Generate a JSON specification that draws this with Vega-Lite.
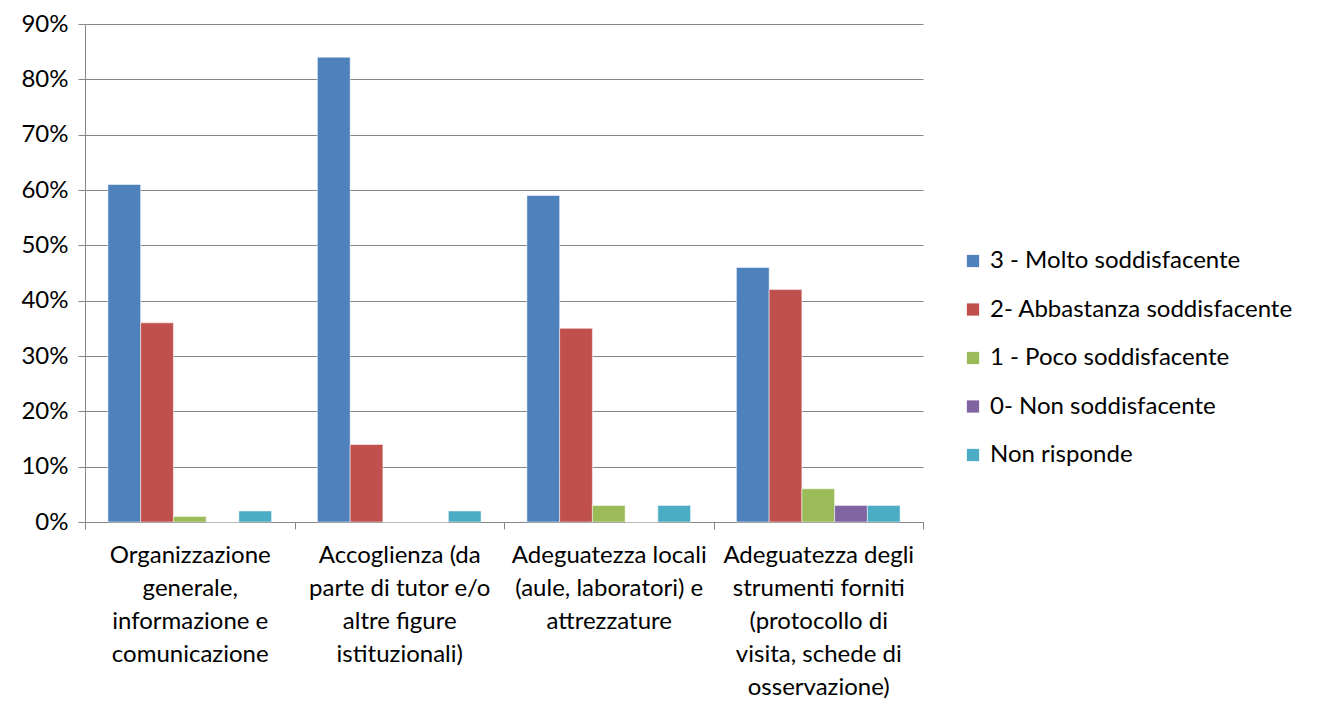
{
  "$schema": "https://vega.github.io/schema/vega-lite/v6.json",
  "autosize": {"type": "none"},
  "padding": {"left": 85, "top": 24, "right": 395, "bottom": 194},
  "width": 838,
  "height": 498,
  "background": "white",
  "config": {
    "font": "Lato",
    "view": {"stroke": null}
  },
  "data": {
    "values": [
      {"cat": "Organizzazione", "serie": "3 - Molto soddisfacente", "v": 0.61},
      {"cat": "Organizzazione", "serie": "2- Abbastanza soddisfacente", "v": 0.36},
      {"cat": "Organizzazione", "serie": "1 - Poco soddisfacente", "v": 0.01},
      {"cat": "Organizzazione", "serie": "0- Non soddisfacente", "v": 0},
      {"cat": "Organizzazione", "serie": "Non risponde", "v": 0.02},
      {"cat": "Accoglienza", "serie": "3 - Molto soddisfacente", "v": 0.84},
      {"cat": "Accoglienza", "serie": "2- Abbastanza soddisfacente", "v": 0.14},
      {"cat": "Accoglienza", "serie": "1 - Poco soddisfacente", "v": 0},
      {"cat": "Accoglienza", "serie": "0- Non soddisfacente", "v": 0},
      {"cat": "Accoglienza", "serie": "Non risponde", "v": 0.02},
      {"cat": "Locali", "serie": "3 - Molto soddisfacente", "v": 0.59},
      {"cat": "Locali", "serie": "2- Abbastanza soddisfacente", "v": 0.35},
      {"cat": "Locali", "serie": "1 - Poco soddisfacente", "v": 0.03},
      {"cat": "Locali", "serie": "0- Non soddisfacente", "v": 0},
      {"cat": "Locali", "serie": "Non risponde", "v": 0.03},
      {"cat": "Strumenti", "serie": "3 - Molto soddisfacente", "v": 0.46},
      {"cat": "Strumenti", "serie": "2- Abbastanza soddisfacente", "v": 0.42},
      {"cat": "Strumenti", "serie": "1 - Poco soddisfacente", "v": 0.06},
      {"cat": "Strumenti", "serie": "0- Non soddisfacente", "v": 0.03},
      {"cat": "Strumenti", "serie": "Non risponde", "v": 0.03}
    ]
  },
  "mark": {"type": "bar", "stroke": "white", "strokeWidth": 0.5},
  "encoding": {
    "x": {
      "field": "cat",
      "type": "nominal",
      "sort": null,
      "scale": {"paddingInner": 0, "paddingOuter": 0},
      "axis": {
        "title": null,
        "labelAngle": 0,
        "labelFontSize": 24,
        "labelColor": "#000000",
        "labelLineHeight": 33,
        "labelPadding": 14,
        "labelBaseline": "top",
        "labelLimit": 0,
        "tickBand": "extent",
        "tickSize": 7,
        "tickColor": "#868686",
        "domainColor": "#868686",
        "labelExpr": "{'Organizzazione': ['Organizzazione', 'generale,', 'informazione e', 'comunicazione'], 'Accoglienza': ['Accoglienza (da', 'parte di tutor e/o', 'altre figure', 'istituzionali)'], 'Locali': ['Adeguatezza locali', '(aule, laboratori) e', 'attrezzature'], 'Strumenti': ['Adeguatezza degli', 'strumenti forniti', '(protocollo di', 'visita, schede di', 'osservazione)']}[datum.value]"
      }
    },
    "xOffset": {
      "field": "serie",
      "type": "nominal",
      "sort": null,
      "scale": {"paddingInner": 0, "paddingOuter": 0.7}
    },
    "y": {
      "field": "v",
      "type": "quantitative",
      "scale": {"domain": [0, 0.9], "nice": false},
      "axis": {
        "title": null,
        "format": ".0%",
        "values": [0, 0.1, 0.2, 0.3, 0.4, 0.5, 0.6, 0.7, 0.8, 0.9],
        "labelOverlap": false,
        "labelFontSize": 24,
        "labelColor": "#000000",
        "labelPadding": 10,
        "tickSize": 7,
        "tickColor": "#868686",
        "domainColor": "#868686",
        "gridColor": "#868686",
        "gridWidth": 1
      }
    },
    "color": {
      "field": "serie",
      "type": "nominal",
      "sort": null,
      "scale": {
        "domain": ["3 - Molto soddisfacente", "2- Abbastanza soddisfacente", "1 - Poco soddisfacente", "0- Non soddisfacente", "Non risponde"],
        "range": ["#4F81BD", "#C0504D", "#9BBB59", "#8064A2", "#4BACC6"]
      },
      "legend": {
        "title": null,
        "orient": "none",
        "legendX": 876,
        "legendY": 225,
        "symbolType": "square",
        "symbolSize": 150,
        "symbolStrokeWidth": 0,
        "labelFontSize": 24,
        "labelLimit": 0,
        "labelColor": "#000000",
        "rowPadding": 24.5,
        "labelOffset": 5
      }
    }
  }
}
